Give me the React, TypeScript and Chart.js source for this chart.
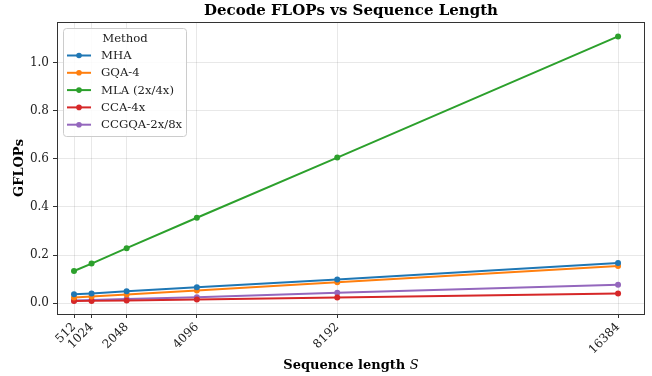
import React, { useEffect, useRef } from "react";
import { Chart, registerables } from "chart.js";

Chart.register(...registerables);

const seqLengths = [512, 1024, 2048, 4096, 8192, 16384];
const mha = [0.037, 0.041, 0.05, 0.067, 0.099, 0.167];
const gqa4 = [0.024, 0.028, 0.036, 0.053, 0.087, 0.155];
const mla = [0.134, 0.165, 0.229, 0.355, 0.605, 1.108];
const cca4x = [0.009, 0.01, 0.012, 0.016, 0.024, 0.041];
const ccgqa = [0.012, 0.014, 0.018, 0.025, 0.044, 0.077];
const seriesNames = ["MHA", "GQA-4", "MLA (2x/4x)", "CCA-4x", "CCGQA-2x/8x"];
const seriesColors = ["#1f77b4", "#ff7f0e", "#2ca02c", "#d62728", "#9467bd"];
const yTicks = [0, 0.2, 0.4, 0.6, 0.8, 1.0];

const FONT = "'DejaVu Serif', serif";

const framePlugin = {
  id: "frameAndLegend",
  afterDraw(chart: any) {
    const { ctx, chartArea } = chart;
    ctx.save();
    // spines
    ctx.strokeStyle = "#333333";
    ctx.lineWidth = 1;
    ctx.strokeRect(chartArea.left + 0.5, chartArea.top + 0.5, chartArea.right - chartArea.left - 1, chartArea.bottom - chartArea.top);
    // title
    ctx.fillStyle = "#000";
    ctx.font = `bold 15px ${FONT}`;
    ctx.textAlign = "center";
    ctx.textBaseline = "middle";
    const cx = (chartArea.left + chartArea.right) / 2;
    ctx.fillText("Decode FLOPs vs Sequence Length", cx, 11);
    // x axis title with italic S
    const part1 = "Sequence length ";
    const part2 = "S";
    ctx.font = `bold 13px ${FONT}`;
    const w1 = ctx.measureText(part1).width;
    ctx.font = `italic 13px ${FONT}`;
    const w2 = ctx.measureText(part2).width;
    const sx = cx - (w1 + w2) / 2;
    ctx.textAlign = "left";
    ctx.font = `bold 13px ${FONT}`;
    ctx.fillText(part1, sx, 366);
    ctx.font = `italic 13px ${FONT}`;
    ctx.fillText(part2, sx + w1, 366);
    // legend
    const lx = chartArea.left + 6;
    const ly = chartArea.top + 6;
    const lw = 123;
    const lh = 108;
    ctx.fillStyle = "rgba(255,255,255,0.85)";
    ctx.strokeStyle = "#cccccc";
    ctx.lineWidth = 1;
    ctx.beginPath();
    const r = 3;
    ctx.moveTo(lx + r + 0.5, ly + 0.5);
    ctx.arcTo(lx + lw + 0.5, ly + 0.5, lx + lw + 0.5, ly + lh + 0.5, r);
    ctx.arcTo(lx + lw + 0.5, ly + lh + 0.5, lx + 0.5, ly + lh + 0.5, r);
    ctx.arcTo(lx + 0.5, ly + lh + 0.5, lx + 0.5, ly + 0.5, r);
    ctx.arcTo(lx + 0.5, ly + 0.5, lx + lw + 0.5, ly + 0.5, r);
    ctx.closePath();
    ctx.fill();
    ctx.stroke();
    ctx.fillStyle = "#222";
    ctx.font = `11.7px ${FONT}`;
    ctx.textAlign = "center";
    ctx.fillText("Method", lx + 62, ly + 11);
    chart.data.datasets.forEach((ds: any, i: number) => {
      const y = ly + 27.5 + i * 17.3;
      ctx.strokeStyle = ds.borderColor;
      ctx.lineWidth = 2;
      ctx.beginPath();
      ctx.moveTo(lx + 4, y);
      ctx.lineTo(lx + 28, y);
      ctx.stroke();
      ctx.fillStyle = ds.borderColor;
      ctx.beginPath();
      ctx.arc(lx + 16, y, 2.8, 0, Math.PI * 2);
      ctx.fill();
      ctx.fillStyle = "#222";
      ctx.textAlign = "left";
      ctx.fillText(ds.label, lx + 38, y + 0.5);
    });
    ctx.restore();
  },
};

export default function App() {
  const ref = useRef<HTMLCanvasElement | null>(null);
  useEffect(() => {
    document.body.style.margin = "0";
    const allSeries = [mha, gqa4, mla, cca4x, ccgqa];
    const chart = new Chart(ref.current!, {
      type: "line",
      data: {
        datasets: allSeries.map((vals, i) => ({
          label: seriesNames[i],
          data: seqLengths.map((s, j) => ({ x: s, y: vals[j] })),
          borderColor: seriesColors[i],
          backgroundColor: seriesColors[i],
          borderWidth: 2,
          pointRadius: 3,
          pointHoverRadius: 3,
          pointBorderWidth: 0,
          tension: 0,
        })),
      },
      options: {
        animation: false,
        responsive: false,
        layout: { padding: { top: 22, right: 7, left: 0, bottom: 0 } },
        plugins: { legend: { display: false }, title: { display: false }, tooltip: { enabled: false } },
        scales: {
          x: {
            type: "linear",
            min: 16,
            max: 17170,
            afterBuildTicks: (scale: any) => {
              scale.ticks = seqLengths.map((v) => ({ value: v }));
            },
            afterFit: (scale: any) => {
              scale.height = 62;
            },
            ticks: {
              autoSkip: false,
              minRotation: 45,
              maxRotation: 45,
              color: "#222",
              font: { family: FONT, size: 12 },
              padding: 2,
              callback: (v: any) => String(v),
            },
            grid: { color: "rgba(0,0,0,0.09)", tickColor: "#333", tickLength: 4 },
            border: { display: false },
            title: { display: false },
          },
          y: {
            type: "linear",
            min: -0.0445,
            max: 1.168,
            afterBuildTicks: (scale: any) => {
              scale.ticks = yTicks.map((v) => ({ value: v }));
            },
            afterFit: (scale: any) => {
              scale.width = 57;
            },
            ticks: {
              color: "#222",
              font: { family: FONT, size: 12 },
              padding: 4,
              callback: (v: any) => Number(v).toFixed(1),
            },
            grid: { color: "rgba(0,0,0,0.09)", tickColor: "#333", tickLength: 4 },
            border: { display: false },
            title: {
              display: true,
              text: "GFLOPs",
              color: "#000",
              font: { family: FONT, size: 13, weight: "bold" },
              padding: { top: 12, bottom: 0 },
            },
          },
        },
      },
      plugins: [framePlugin],
    } as any);
    return () => chart.destroy();
  }, []);
  return <canvas ref={ref} width={652} height={376} style={{ display: "block" }} />;
}
